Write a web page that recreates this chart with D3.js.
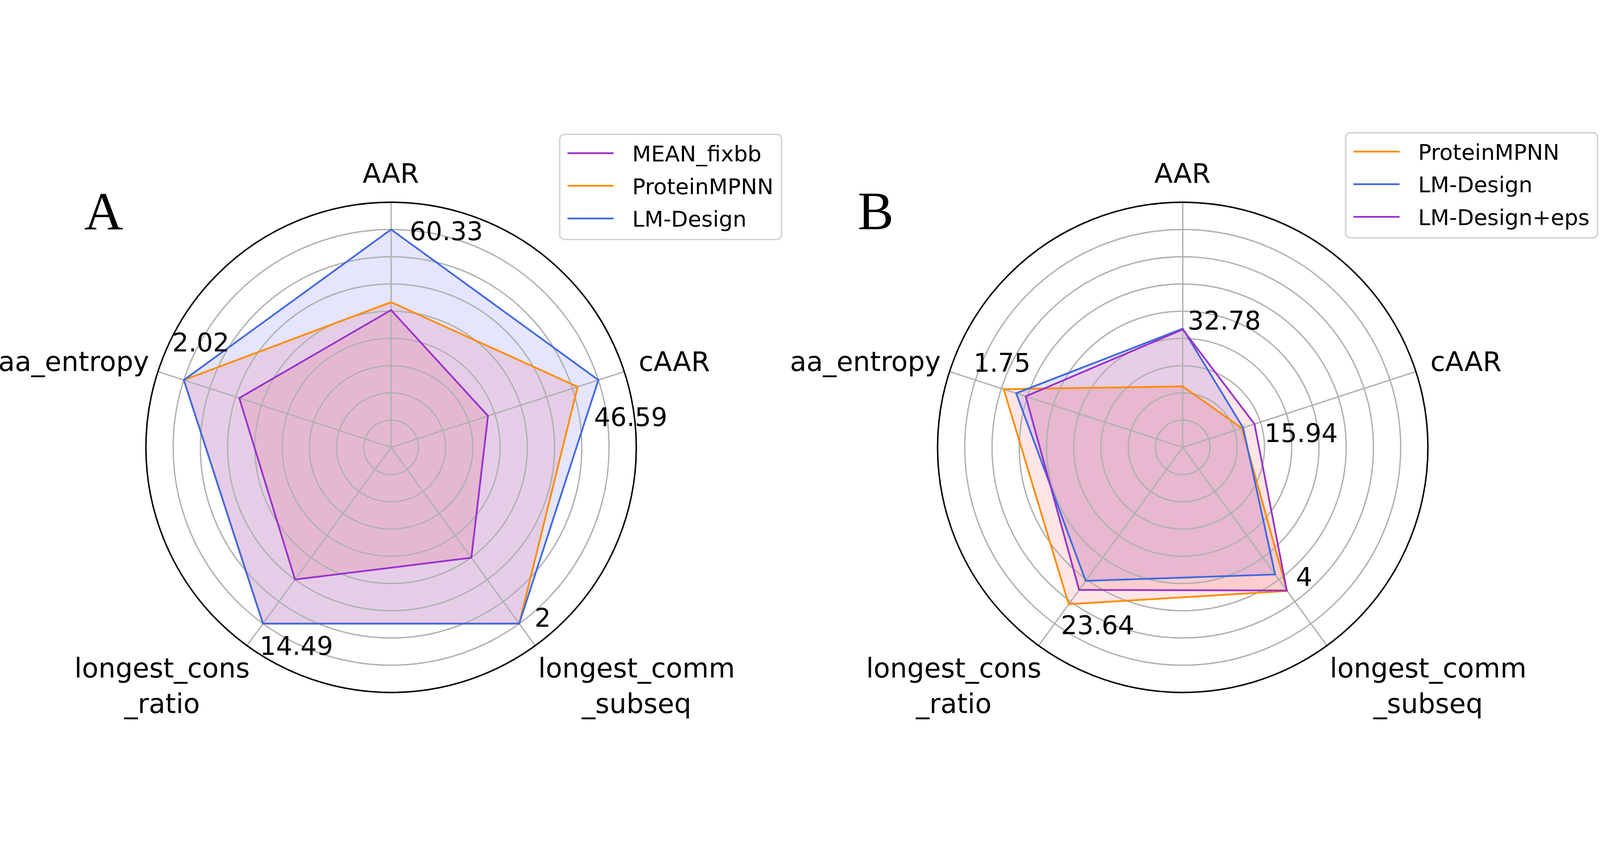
<!DOCTYPE html>
<html>
<head>
<meta charset="utf-8">
<script src="https://cdnjs.cloudflare.com/ajax/libs/d3/7.8.5/d3.min.js"></script>
<style>
  html, body { margin: 0; padding: 0; background: #fff; overflow: hidden; }
  svg { display: block; width: 100vw; height: 100vh; }
  text { font-family: "DejaVu Sans", sans-serif; fill: #000; }
</style>
</head>
<body>
<div id="chart"></div>
<script>
// axes of the radar, clockwise from the top
var axisNames = ["AAR", "cAAR", "longest_comm\n_subseq", "longest_cons\n_ratio", "aa_entropy"];

// panel A (scores in grid units; outer circle = 9)
var methodsA = ["MEAN_fixbb", "ProteinMPNN", "LM-Design"];
var meanFixbbA   = [5.04, 3.74, 5.01, 6.00, 5.86];
var proteinMpnnA = [5.33, 7.20, 8.00, 8.00, 8.00];
var lmDesignA    = [8.00, 8.00, 8.00, 8.00, 8.00];
var maxLabelsA = ["60.33", "46.59", "2", "14.49", "2.02"];

// panel B
var methodsB = ["ProteinMPNN", "LM-Design", "LM-Design+eps"];
var proteinMpnnB = [2.24, 2.28, 6.52, 7.12, 6.91];
var lmDesignB    = [4.36, 2.33, 5.77, 6.06, 6.43];
var lmDesignEpsB = [4.33, 2.77, 6.50, 6.47, 6.06];
var maxLabelsB = ["32.78", "15.94", "4", "23.64", "1.75"];

var ringTicks = [1, 2, 3, 4, 5, 6, 7, 8];
var rLimit = 9;

var svgWidth = 5932;
var svgHeight = 2187;
var outerR = 909;

var purple = "#9932CC", orange = "#FF8C00", blue = "#4169E1";
var redFill = "rgba(255,0,0,0.1)", blueFill = "rgba(0,0,255,0.1)";

// the window is narrower than the figure, so scale the whole drawing to fit
var svg = d3.select("#chart")
  .append("svg")
  .attr("viewBox", `0 0 ${svgWidth} ${svgHeight}`)
  .attr("preserveAspectRatio", "xMidYMid meet");

svg.append("rect").attr("width", svgWidth).attr("height", svgHeight).attr("fill", "#fff");

var rScale = d3.scaleLinear().domain([0, rLimit]).range([0, outerR]);
var angleScale = d3.scaleLinear().domain([0, axisNames.length]).range([0, 2 * Math.PI]);

// where the axis names sit, relative to the panel centre
var axisLabelLayout = [
  { anchor: "middle", dx: -1, dy: -982 },
  { anchor: "start", dx: 918, dy: -284 },
  { anchor: "middle", dx: 910, dy: 853 },
  { anchor: "middle", dx: -849, dy: 853 },
  { anchor: "end", dx: -897, dy: -284 }
];

function point(i, v) {
  var a = angleScale(i);
  return [rScale(v) * Math.sin(a), -rScale(v) * Math.cos(a)];
}

function drawPanel(cfg) {
  var g = svg.append("g").attr("transform", `translate(${cfg.cx}, ${cfg.cy})`);

  var radar = d3.lineRadial()
    .angle((d, i) => angleScale(i))
    .radius(d => rScale(d))
    .curve(d3.curveLinearClosed);

  // fills first, grid above them, outlines on top (matplotlib order)
  cfg.series.forEach(function(s, k) {
    g.append("path")
      .attr("d", radar(s))
      .attr("fill", cfg.fills[k])
      .attr("stroke", "none");
  });

  // grid rings
  g.selectAll(".ring")
    .data(ringTicks)
    .enter()
    .append("circle")
    .attr("r", d => rScale(d))
    .attr("fill", "none")
    .attr("stroke", "#b0b0b0")
    .attr("stroke-width", 5);

  // spokes
  g.selectAll(".spoke")
    .data(axisNames)
    .enter()
    .append("line")
    .attr("x1", 0).attr("y1", 0)
    .attr("x2", (d, i) => point(i, rLimit)[0])
    .attr("y2", (d, i) => point(i, rLimit)[1])
    .attr("stroke", "#b0b0b0")
    .attr("stroke-width", 5);

  cfg.series.forEach(function(s, k) {
    g.append("path")
      .attr("d", radar(s))
      .attr("fill", "none")
      .attr("stroke", cfg.colors[k])
      .attr("stroke-width", 6.5)
      .attr("stroke-linejoin", "miter");
  });

  // outer spine
  g.append("circle")
    .attr("r", rScale(rLimit))
    .attr("fill", "none")
    .attr("stroke", "#000")
    .attr("stroke-width", 5.5);

  // axis names
  axisNames.forEach(function(name, i) {
    var lay = axisLabelLayout[i];
    var t = g.append("text")
      .attr("x", lay.dx)
      .attr("y", lay.dy)
      .attr("text-anchor", lay.anchor)
      .style("font-size", "100px");
    name.split("\n").forEach(function(line, j) {
      t.append("tspan")
        .attr("x", lay.dx)
        .attr("y", lay.dy + j * 133)
        .text(line);
    });
  });

  // max value labels, next to the outermost point on each axis
  cfg.maxLabels.forEach(function(lbl, i) {
    var vmax = d3.max(cfg.series, s => s[i]);
    var p = point(i, vmax);
    g.append("text")
      .attr("x", p[0] + cfg.valueOffsets[i][0])
      .attr("y", p[1] + cfg.valueOffsets[i][1])
      .style("font-size", "95px")
      .text(lbl);
  });

  // panel letter
  svg.append("text")
    .attr("x", cfg.letterPos[0])
    .attr("y", cfg.letterPos[1])
    .style("font-family", "'Liberation Serif', serif")
    .style("font-size", "200px")
    .text(cfg.letter);

  // legend
  var leg = svg.append("g").attr("transform", `translate(${cfg.legendPos[0]}, ${cfg.legendPos[1]})`);
  var box = leg.append("rect")
    .attr("x", 0).attr("y", 0)
    .attr("height", 390)
    .attr("rx", 18)
    .attr("fill", "#fff")
    .attr("stroke", "#d6d6d6")
    .attr("stroke-width", 6);
  var maxW = 0;
  cfg.names.forEach(function(name, k) {
    var yy = 70 + k * 121;
    leg.append("line")
      .attr("x1", 29).attr("x2", 200)
      .attr("y1", yy).attr("y2", yy)
      .attr("stroke", cfg.colors[k])
      .attr("stroke-width", 6.5);
    var t = leg.append("text")
      .attr("x", 269)
      .attr("y", yy + 30)
      .style("font-size", "81px")
      .text(name);
    maxW = Math.max(maxW, t.node().getComputedTextLength());
  });
  box.attr("width", 269 + maxW + 30);
}

drawPanel({
  cx: 1450, cy: 1169,
  names: methodsA,
  series: [meanFixbbA, proteinMpnnA, lmDesignA],
  colors: [purple, orange, blue],
  fills: [redFill, redFill, blueFill],
  maxLabels: maxLabelsA,
  valueOffsets: [[69, 39], [-16, 170], [57, 11], [-12, 116], [-43, -106]],
  letter: "A",
  letterPos: [312, 360],
  legendPos: [2075, 8]
});

drawPanel({
  cx: 4385, cy: 1169,
  names: methodsB,
  series: [proteinMpnnB, lmDesignB, lmDesignEpsB],
  colors: [orange, blue, purple],
  fills: [redFill, blueFill, redFill],
  maxLabels: maxLabelsB,
  valueOffsets: [[18, 4], [37, 66], [33, -19], [-29, 111], [-112, -65]],
  letter: "B",
  letterPos: [3180, 360],
  legendPos: [4989, 2]
});
</script>
</body>
</html>
